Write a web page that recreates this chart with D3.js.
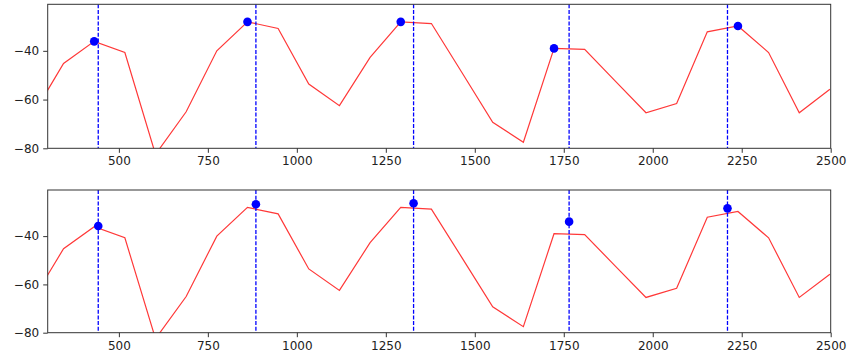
<!DOCTYPE html>
<html>
<head>
<meta charset="utf-8">
<script src="https://cdn.jsdelivr.net/npm/d3@7"></script>
<style>
  body { margin: 0; background: #fff; }
  text { font-family: "DejaVu Sans", sans-serif; }
</style>
</head>
<body>
<script>
// spectrum bins (Hz) and magnitudes (dB)
const binHz = 86.13
const binIndex = [3, 4, 5, 6, 7, 8, 9, 10, 11, 12, 13, 14, 15, 16, 17, 18, 19, 20, 21, 22, 23, 24, 25, 26, 27, 28, 29]
const magnitude = [-66.3, -45.2, -36.1, -40.7, -82.5, -65, -40, -28.1, -30.8, -53.6, -62.5, -42.7, -28.1, -28.8, -49, -69.3, -77.5, -39, -39.4, -52.4, -65.4, -61.6, -32.2, -29.8, -40.7, -65.4, -55.8]

// top plot: picked peaks
const peakBins = [5, 10, 15, 20, 26]
const peakValues = [-36.1, -28.1, -28.1, -39, -29.8]

// bottom plot: harmonic estimates
const harmonicHz = [442, 885, 1328, 1765, 2210]
const harmonicValues = [-35.8, -26.8, -26.4, -34.0, -28.5]

const xTicks = [500, 750, 1000, 1250, 1500, 1750, 2000, 2250, 2500]
const yTicks = [-40, -60, -80]

const W = 850, H = 363
const svg = d3.select('body').append('svg').attr('width', W).attr('height', H)

const left = 47.7, right = 830.7
const panels = [
  {top: 4.3, bottom: 148.3, dotsX: peakBins.map(k => k * binHz), dotsY: peakValues},
  {top: 190, bottom: 332.7, dotsX: harmonicHz, dotsY: harmonicValues}
]

const x = d3.scaleLinear().domain([300, 2500]).range([left, right])
const spectrum = binIndex.map((k, i) => [k * binHz, magnitude[i]])

panels.forEach((p, idx) => {
  const y = d3.scaleLinear().domain([-80, -20.9]).range([p.bottom, p.top])
  const g = svg.append('g')

  g.append('clipPath').attr('id', 'clip' + idx)
    .append('rect').attr('x', left).attr('y', p.top)
    .attr('width', right - left).attr('height', p.bottom - p.top)

  const plot = g.append('g').attr('clip-path', 'url(#clip' + idx + ')')

  plot.append('path')
    .datum(spectrum)
    .attr('d', d3.line().x(d => x(d[0])).y(d => y(d[1])))
    .attr('fill', 'none')
    .attr('stroke', '#ff0000')
    .attr('stroke-opacity', 0.78)
    .attr('stroke-width', 1.2)

  plot.selectAll('line.harm')
    .data(harmonicHz)
    .join('line')
    .attr('class', 'harm')
    .attr('x1', d => x(d)).attr('x2', d => x(d))
    .attr('y1', p.top).attr('y2', p.bottom)
    .attr('stroke', '#0000ff')
    .attr('stroke-width', 1.3)
    .attr('stroke-dasharray', '4,1.7')

  plot.selectAll('circle')
    .data(p.dotsX.map((v, i) => [v, p.dotsY[i]]))
    .join('circle')
    .attr('cx', d => x(d[0]))
    .attr('cy', d => y(d[1]))
    .attr('r', 4.3)
    .attr('fill', '#0000ff')

  const xAxis = d3.axisBottom(x).tickValues(xTicks).tickSize(4.5).tickPadding(4).tickFormat(d3.format('d'))
  const yAxis = d3.axisLeft(y).tickValues(yTicks).tickSize(4.5).tickPadding(4)
    .tickFormat(d => '\u2212' + Math.abs(d))

  const gx = g.append('g').attr('transform', `translate(0,${p.bottom})`).call(xAxis)
  const gy = g.append('g').attr('transform', `translate(${left},0)`).call(yAxis)
  ;[gx, gy].forEach(a => {
    a.select('.domain').remove()
    a.selectAll('line').attr('stroke', '#333').attr('stroke-width', 1)
    a.selectAll('text').attr('font-size', 12).attr('fill', '#222')
      .attr('font-family', '"DejaVu Sans", sans-serif')
  })

  g.append('rect')
    .attr('x', left).attr('y', p.top)
    .attr('width', right - left).attr('height', p.bottom - p.top)
    .attr('fill', 'none').attr('stroke', '#333').attr('stroke-width', 1)
})
</script>
</body>
</html>
